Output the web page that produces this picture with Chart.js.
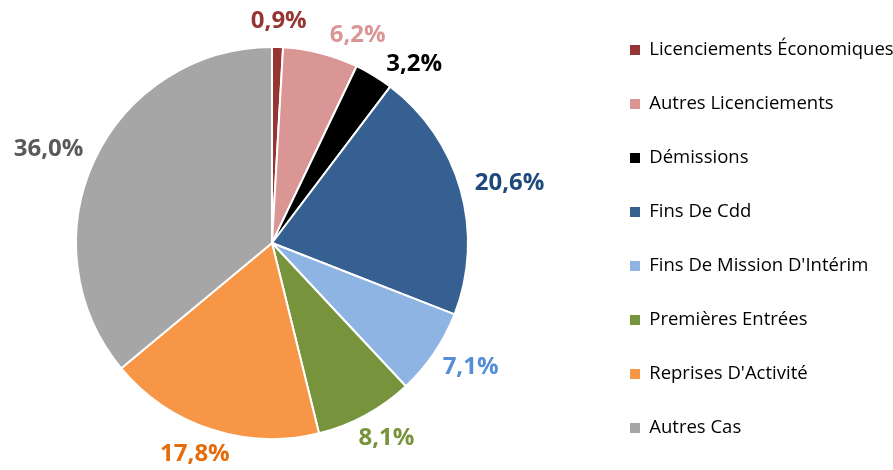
<!DOCTYPE html>
<html>
<head>
<meta charset="utf-8">
<script src="https://cdn.jsdelivr.net/npm/chart.js@4.4.1/dist/chart.umd.min.js"></script>
<style>
  html, body { margin: 0; padding: 0; background: #fff; overflow: hidden; }
  canvas { display: block; }
</style>
</head>
<body>
<canvas id="c" width="893" height="470"></canvas>
<script>
const categories = [
  "Licenciements Économiques",
  "Autres Licenciements",
  "Démissions",
  "Fins De Cdd",
  "Fins De Mission D'Intérim",
  "Premières Entrées",
  "Reprises D'Activité",
  "Autres Cas"
];
const shares = [0.9, 6.2, 3.2, 20.6, 7.1, 8.1, 17.8, 36.0];
const sliceColors = ["#963634", "#D99694", "#000000", "#376092", "#8EB4E3", "#77933C", "#F79646", "#A6A6A6"];
const labelColors = ["#963634", "#D99694", "#000000", "#1F497D", "#558ED5", "#77933C", "#E46C0A", "#595959"];
const labelTexts = shares.map(v => v.toFixed(1).replace('.', ',') + '%');

const placePlugin = {
  id: 'place',
  afterLayout(chart) {
    const ca = chart.chartArea;
    ca.left = 72; ca.right = 472; ca.top = 43; ca.bottom = 443;
    ca.width = 400; ca.height = 400;
    const lg = chart.legend;
    if (lg) {
      const pad = lg.options.labels.padding;
      const dx = 630 - (lg.left + pad);
      lg.left += dx;
      lg.right = 893;
      lg.width = lg.right - lg.left;
      lg.top += 4; lg.bottom += 4;
    }
  }
};

const outsideLabels = {
  id: 'outsideLabels',
  afterDatasetsDraw(chart) {
    const ctx = chart.ctx;
    const meta = chart.getDatasetMeta(0);
    ctx.save();
    ctx.font = 'bold 24px "Open Sans"';
    ctx.textAlign = 'center';
    ctx.textBaseline = 'middle';
    const placed = [];
    const h = 28, g = 12, mx = 14;
    meta.data.forEach((arc, i) => {
      const p = arc.getProps(['x', 'y', 'startAngle', 'endAngle', 'outerRadius'], true);
      const w = ctx.measureText(labelTexts[i]).width + 8;
      let mid = (p.startAngle + p.endAngle) / 2;
      const boxAt = (a) => {
        const c = Math.cos(a), s = Math.sin(a);
        const cx = p.x + (p.outerRadius + g) * c + (w / 2) * c;
        const cy = p.y + (p.outerRadius + g) * s + (h / 2) * s;
        return { cx, cy, l: cx - w / 2, r: cx + w / 2, t: cy - h / 2, b: cy + h / 2 };
      };
      let box = boxAt(mid);
      const hits = (bx) => placed.some(q => bx.l < q.r + mx && bx.r > q.l - mx && bx.t < q.b && bx.b > q.t);
      let steps = 0;
      while (hits(box) && steps < 120) {
        mid += Math.PI / 360;
        box = boxAt(mid);
        steps++;
      }
      placed.push(box);
      ctx.fillStyle = labelColors[i];
      ctx.fillText(labelTexts[i], box.cx, box.cy);
    });
    ctx.restore();
  }
};

new Chart(document.getElementById('c'), {
  type: 'pie',
  data: {
    labels: categories,
    datasets: [{
      data: shares,
      backgroundColor: sliceColors,
      borderColor: '#ffffff',
      borderWidth: 2,
      hoverOffset: 0,
      radius: 196,
      clip: false
    }]
  },
  options: {
    responsive: false,
    animation: false,
    devicePixelRatio: 1,
    layout: { padding: 0 },
    plugins: {
      tooltip: { enabled: false },
      legend: {
        position: 'right',
        labels: {
          boxWidth: 10,
          boxHeight: 10,
          padding: 35.5,
          color: '#000000',
          font: { family: '"Open Sans"', size: 18.5 },
          generateLabels(chart) {
            const base = Chart.overrides.pie.plugins.legend.labels.generateLabels(chart);
            return base.map(l => Object.assign({}, l, { lineWidth: 0, strokeStyle: l.fillStyle }));
          }
        }
      }
    }
  },
  plugins: [placePlugin, outsideLabels]
});
</script>
</body>
</html>
